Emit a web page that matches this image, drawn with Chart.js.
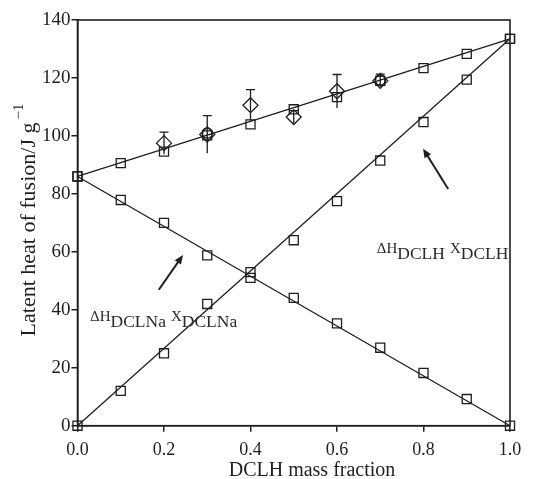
<!DOCTYPE html>
<html>
<head>
<meta charset="utf-8">
<script src="https://cdn.jsdelivr.net/npm/chart.js@4.4.1/dist/chart.umd.min.js"></script>
<style>
  html, body { margin: 0; padding: 0; background: #fff; }
  #c { display: block; }
</style>
</head>
<body>
<canvas id="c" width="558" height="479"></canvas>
<script>
// DCLH mass fraction of each blend
const massFraction = [0, 0.1, 0.2, 0.3, 0.4, 0.5, 0.6, 0.7, 0.8, 0.9, 1.0];
// Calculated latent heat of the blend and the two component contributions (J/g)
const totalLatentHeat  = [86, 90.6, 94.6, 100.2, 104, 109.2, 113.4, 119, 123.4, 128.3, 133.5];
const dclnaContribution = [86, 77.9, 70, 58.8, 51, 44.1, 35.3, 26.9, 18.2, 9.2, 0];
const dclhContribution  = [0, 12, 25, 42, 53, 64, 77.5, 91.5, 104.8, 119.4, 133.5];
// Straight-line trends through the end members
const trendFractions = [0, 1];
const trendTotal = [86, 133.5];
const trendDclna = [86, 0];
const trendDclh  = [0, 133.5];
// Measured latent heat with standard deviation
const measuredFractions = [0.2, 0.3, 0.4, 0.5, 0.6, 0.7];
const measuredHeat      = [97.5, 100.5, 110.6, 106.5, 115.4, 119];
const measuredError     = [3.8, 6.5, 5.4, 2.2, 5.8, 2.3];
// Repeat measurements
const repeatFractions = [0.3, 0.7];
const repeatHeat      = [101, 119.3];
// Axis ticks
const xTicks = [0, 0.2, 0.4, 0.6, 0.8, 1.0];
const yTicks = [0, 20, 40, 60, 80, 100, 120, 140];

const INK = '#1e1e1e';
const SERIF = '"Liberation Serif", "Times New Roman", serif';

const pts = (xs, ys) => xs.map((x, i) => ({ x, y: ys[i] }));

const trendStyle = { showLine: true, pointRadius: 0, borderColor: INK, borderWidth: 1.3, clip: false, order: 3 };
const squareStyle = { showLine: false, pointStyle: 'rect', pointRadius: 6.4, borderColor: INK, backgroundColor: 'rgba(0,0,0,0)', pointBorderWidth: 1.3, clip: false, order: 2 };

// Error bars, annotation arrows and formula labels drawn in data coordinates
const extras = {
  id: 'extras',
  afterDatasetsDraw(chart) {
    const { ctx, scales: { x, y } } = chart;
    ctx.save();
    ctx.strokeStyle = INK;
    ctx.fillStyle = INK;
    ctx.lineWidth = 1.3;
    measuredFractions.forEach((f, i) => {
      const px = x.getPixelForValue(f);
      const top = y.getPixelForValue(measuredHeat[i] + measuredError[i]);
      const bot = y.getPixelForValue(measuredHeat[i] - measuredError[i]);
      ctx.beginPath();
      ctx.moveTo(px, bot); ctx.lineTo(px, top);
      ctx.moveTo(px - 4.5, top); ctx.lineTo(px + 4.5, top);
      ctx.stroke();
    });

    const arrow = (x0, y0, x1, y1) => {
      const ax = x.getPixelForValue(x0), ay = y.getPixelForValue(y0);
      const bx = x.getPixelForValue(x1), by = y.getPixelForValue(y1);
      const ang = Math.atan2(by - ay, bx - ax);
      const head = 9, half = 3.8;
      ctx.lineWidth = 2;
      ctx.beginPath();
      ctx.moveTo(ax, ay);
      ctx.lineTo(bx - Math.cos(ang) * head * 0.8, by - Math.sin(ang) * head * 0.8);
      ctx.stroke();
      ctx.beginPath();
      ctx.moveTo(bx, by);
      ctx.lineTo(bx - Math.cos(ang) * head - Math.sin(ang) * half, by - Math.sin(ang) * head + Math.cos(ang) * half);
      ctx.lineTo(bx - Math.cos(ang) * head + Math.sin(ang) * half, by - Math.sin(ang) * head - Math.cos(ang) * half);
      ctx.closePath();
      ctx.fill();
    };
    arrow(0.188, 46.9, 0.244, 58.9);
    arrow(0.857, 81.7, 0.799, 95.6);

    const formula = (fx, fy, sub) => {
      let px = x.getPixelForValue(fx);
      const base = y.getPixelForValue(fy);
      ctx.textBaseline = 'alphabetic';
      ctx.textAlign = 'left';
      const parts = [['\u0394H', 15, 0], [sub, 17.5, 6], ['X', 15, 0], [sub, 17.5, 6]];
      parts.forEach(([t, size, dy], k) => {
        ctx.font = size + 'px ' + SERIF;
        ctx.fillText(t, px, base + dy);
        px += ctx.measureText(t).width + (k === 1 ? 5 : 0);
      });
    };
    ctx.fillStyle = '#2a2a2a';
    formula(0.029, 36.3, 'DCLNa');
    formula(0.692, 59.7, 'DCLH');

    // frame around the plotting area
    const a = chart.chartArea;
    ctx.strokeStyle = INK;
    ctx.lineWidth = 1.6;
    ctx.strokeRect(a.left, a.top, a.right - a.left, a.bottom - a.top);

    // axis titles
    ctx.fillStyle = INK;
    ctx.font = '20px ' + SERIF;
    ctx.textAlign = 'center';
    ctx.textBaseline = 'alphabetic';
    ctx.fillText('DCLH mass fraction', 312, 476);

    ctx.translate(35, 220);
    ctx.rotate(-Math.PI / 2);
    const main = 'Latent heat of fusion/J g';
    const sup = '\u22121';
    ctx.font = '22px ' + SERIF;
    const wMain = ctx.measureText(main).width;
    ctx.font = '15px ' + SERIF;
    const wSup = ctx.measureText(sup).width;
    const start = -(wMain + wSup + 3) / 2;
    ctx.textAlign = 'left';
    ctx.font = '22px ' + SERIF;
    ctx.fillText(main, start, 0);
    ctx.font = '15px ' + SERIF;
    ctx.fillText(sup, start + wMain + 3, -12);
    ctx.restore();
  }
};

new Chart(document.getElementById('c'), {
  type: 'scatter',
  data: {
    datasets: [
      { label: 'Experimental', data: pts(measuredFractions, measuredHeat), pointStyle: 'rectRot', pointRadius: 7.5, borderColor: INK, backgroundColor: 'rgba(0,0,0,0)', pointBorderWidth: 1.3, clip: false, order: 1 },
      { label: 'Repeat', data: pts(repeatFractions, repeatHeat), pointStyle: 'circle', pointRadius: 5.2, borderColor: INK, backgroundColor: 'rgba(0,0,0,0)', pointBorderWidth: 1.3, clip: false, order: 1 },
      { label: 'Calculated', data: pts(massFraction, totalLatentHeat), ...squareStyle },
      { label: 'DCLNa part', data: pts(massFraction, dclnaContribution), ...squareStyle },
      { label: 'DCLH part', data: pts(massFraction, dclhContribution), ...squareStyle },
      { label: 'Calculated trend', data: pts(trendFractions, trendTotal), ...trendStyle },
      { label: 'DCLNa trend', data: pts(trendFractions, trendDclna), ...trendStyle },
      { label: 'DCLH trend', data: pts(trendFractions, trendDclh), ...trendStyle }
    ]
  },
  options: {
    responsive: false,
    animation: false,
    events: [],
    layout: { padding: { top: 20, right: 48, left: 0, bottom: 0 } },
    plugins: { legend: { display: false }, tooltip: { enabled: false } },
    scales: {
      x: {
        type: 'linear', min: 0, max: 1,
        afterBuildTicks: s => { s.ticks = xTicks.map(v => ({ value: v })); },
        afterFit: s => { s.height = 53.3; },
        ticks: { callback: v => Number(v).toFixed(1), font: { family: SERIF, size: 18 }, color: INK, padding: 8, maxRotation: 0, autoSkip: false },
        grid: { drawOnChartArea: false, tickLength: 6, color: INK, lineWidth: 1.5 },
        border: { color: INK, width: 1.6 }
      },
      y: {
        min: 0, max: 140,
        afterBuildTicks: s => { s.ticks = yTicks.map(v => ({ value: v })); },
        afterFit: s => { s.width = 77.5; },
        ticks: { font: { family: SERIF, size: 19 }, color: INK, padding: 1, autoSkip: false },
        grid: { drawOnChartArea: false, tickLength: 6, color: INK, lineWidth: 1.5 },
        border: { color: INK, width: 1.6 }
      }
    }
  },
  plugins: [extras]
});
</script>
</body>
</html>
